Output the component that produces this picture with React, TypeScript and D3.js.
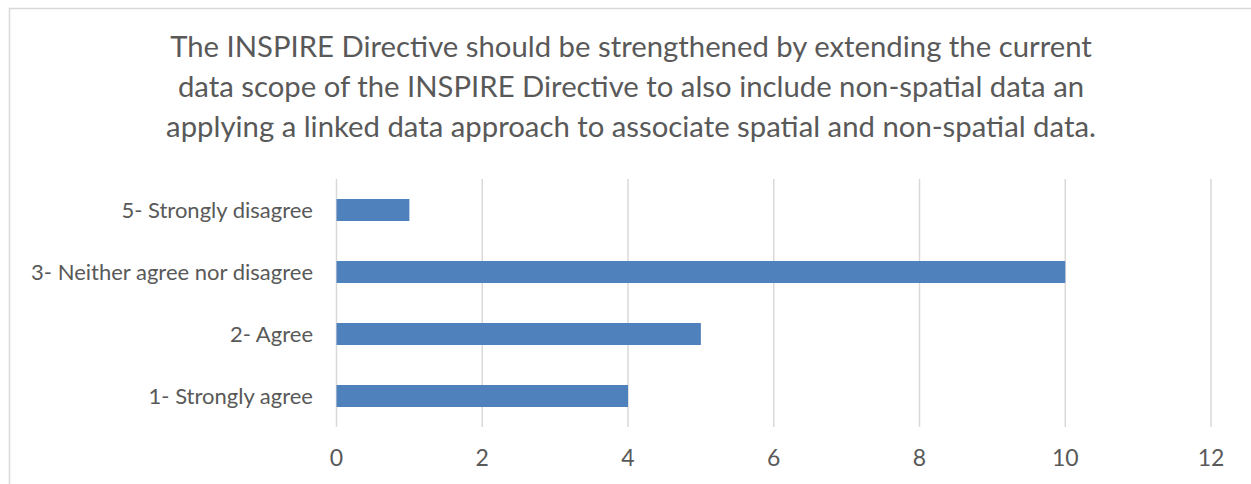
import React from "react";
import * as d3 from "d3";

const titleLines = [
  "The INSPIRE Directive should be strengthened by extending the current",
  "data scope of the INSPIRE Directive to also include non-spatial data an",
  "applying a linked data approach to associate spatial and non-spatial data.",
];
const categories = [
  "5- Strongly disagree",
  "3- Neither agree nor disagree",
  "2- Agree",
  "1- Strongly agree",
];
const values = [1, 10, 5, 4];
const xTicks = [0, 2, 4, 6, 8, 10, 12];

const W = 1251;
const H = 484;
const FONT = "Lato, 'Open Sans', sans-serif";
const TEXT = "#595959";
const GRID = "#D9D9D9";
const BAR = "#4F81BD";

export default function App() {
  const x = d3.scaleLinear().domain([0, 12]).range([336.5, 1211]);
  const y = d3
    .scaleBand<string>()
    .domain(categories)
    .range([179, 427])
    .paddingInner(0.645)
    .paddingOuter(0.3225);

  return (
    <svg
      width={W}
      height={H}
      style={{ position: "absolute", left: 0, top: 0, background: "#fff" }}
    >
      <rect x={0} y={0} width={W} height={H} fill="#fff" />
      <rect
        x={9.5}
        y={8.5}
        width={W + 10}
        height={H + 10}
        fill="none"
        stroke={GRID}
        strokeWidth={1.5}
      />
      {titleLines.map((t, i) => (
        <text
          key={i}
          x={631}
          y={57 + i * 40}
          textAnchor="middle"
          fontFamily={FONT}
          fontSize={29.3}
          fill={TEXT}
        >
          {t}
        </text>
      ))}
      {xTicks.map((t) => (
        <g key={t}>
          <line
            x1={x(t)}
            x2={x(t)}
            y1={179}
            y2={427}
            stroke={GRID}
            strokeWidth={1.5}
          />
          <text
            x={x(t)}
            y={466}
            textAnchor="middle"
            fontFamily={FONT}
            fontSize={23}
            fill={TEXT}
          >
            {t}
          </text>
        </g>
      ))}
      {categories.map((c, i) => (
        <g key={c}>
          <rect
            x={x(0)}
            y={y(c)!}
            width={x(values[i]) - x(0)}
            height={y.bandwidth()}
            fill={BAR}
          />
          <text
            x={313}
            y={y(c)! + y.bandwidth() / 2}
            dy="0.35em"
            textAnchor="end"
            fontFamily={FONT}
            fontSize={22}
            fill={TEXT}
          >
            {c}
          </text>
        </g>
      ))}
    </svg>
  );
}
